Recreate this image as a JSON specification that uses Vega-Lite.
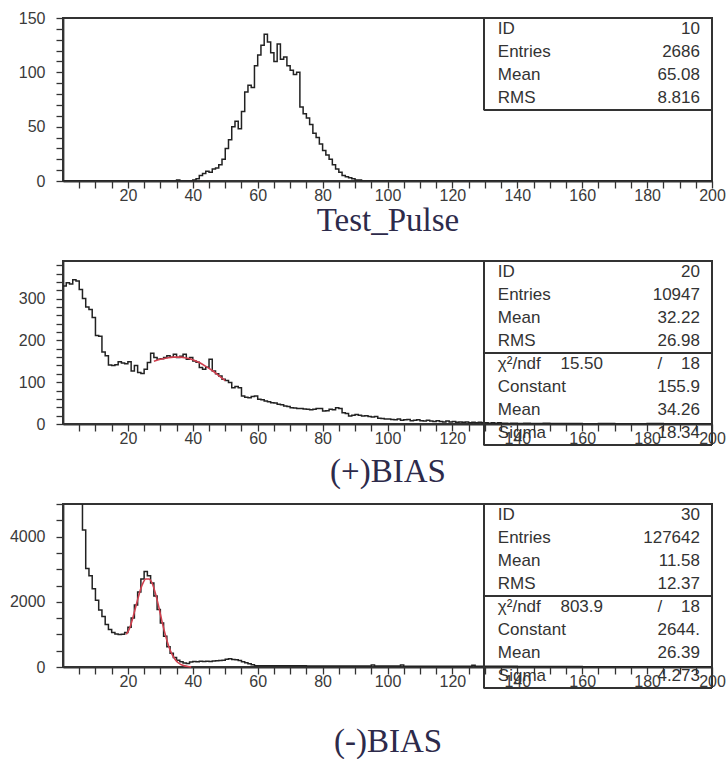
{
"$schema": "https://vega.github.io/schema/vega-lite/v6.json",
"padding": {"left": 8, "top": 9, "right": 0, "bottom": 0},
"background": "white",
"config": {
  "view": {"stroke": "#333", "strokeWidth": 2},
  "axis": {"domainColor": "#333", "domainWidth": 1.8, "ticks": true, "tickSize": 7, "tickColor": "#333", "tickWidth": 1.3, "tickOpacity": 1, "grid": false, "labelFont": "Liberation Sans", "labelFontSize": 16, "labelColor": "#3a3a3a", "labelFlush": false, "labelOverlap": false, "titleFont": "Liberation Serif", "titleFontSize": 33, "titleFontWeight": "normal", "titleColor": "#2d2a4a", "titleBaseline": "alphabetic"},
  "text": {"font": "Liberation Sans", "fontSize": 17, "color": "#333"}
},
"datasets": {
  "tp": [{"x":0,"y":0},{"x":35,"y":1},{"x":36,"y":0},{"x":40,"y":1},{"x":41,"y":2},{"x":42,"y":5},{"x":43,"y":7},{"x":44,"y":9},{"x":45,"y":8},{"x":46,"y":11},{"x":47,"y":12},{"x":48,"y":15},{"x":49,"y":20},{"x":50,"y":30},{"x":51,"y":38},{"x":52,"y":50},{"x":53,"y":55},{"x":54,"y":48},{"x":55,"y":64},{"x":56,"y":82},{"x":57,"y":88},{"x":58,"y":86},{"x":59,"y":106},{"x":60,"y":116},{"x":61,"y":125},{"x":62,"y":135},{"x":63,"y":128},{"x":64,"y":118},{"x":65,"y":110},{"x":66,"y":126},{"x":67,"y":112},{"x":68,"y":114},{"x":69,"y":106},{"x":70,"y":102},{"x":71,"y":98},{"x":72,"y":100},{"x":73,"y":68},{"x":74,"y":62},{"x":75,"y":58},{"x":76,"y":52},{"x":77,"y":44},{"x":78,"y":40},{"x":79,"y":34},{"x":80,"y":28},{"x":81,"y":24},{"x":82,"y":20},{"x":83,"y":15},{"x":84,"y":11},{"x":85,"y":8},{"x":86,"y":5},{"x":87,"y":4},{"x":88,"y":3},{"x":89,"y":2},{"x":90,"y":1},{"x":91,"y":1},{"x":92,"y":0},{"x":200,"y":0}],
  "pb": [{"x":0,"y":330},{"x":1,"y":338},{"x":2,"y":335},{"x":3,"y":345},{"x":4,"y":342},{"x":5,"y":322},{"x":6,"y":300},{"x":7,"y":280},{"x":8,"y":274},{"x":9,"y":255},{"x":10,"y":212},{"x":11,"y":210},{"x":12,"y":172},{"x":13,"y":163},{"x":14,"y":141},{"x":15,"y":140},{"x":16,"y":142},{"x":17,"y":149},{"x":18,"y":146},{"x":19,"y":144},{"x":20,"y":149},{"x":21,"y":127},{"x":22,"y":140},{"x":23,"y":123},{"x":24,"y":121},{"x":25,"y":131},{"x":26,"y":147},{"x":27,"y":169},{"x":28,"y":159},{"x":29,"y":155},{"x":30,"y":156},{"x":31,"y":159},{"x":32,"y":163},{"x":33,"y":160},{"x":34,"y":167},{"x":35,"y":159},{"x":36,"y":162},{"x":37,"y":167},{"x":38,"y":155},{"x":39,"y":159},{"x":40,"y":151},{"x":41,"y":148},{"x":42,"y":135},{"x":43,"y":131},{"x":44,"y":136},{"x":45,"y":155},{"x":46,"y":127},{"x":47,"y":120},{"x":48,"y":115},{"x":49,"y":107},{"x":50,"y":104},{"x":51,"y":99},{"x":52,"y":87},{"x":53,"y":90},{"x":54,"y":87},{"x":55,"y":67},{"x":56,"y":64},{"x":57,"y":63},{"x":58,"y":66},{"x":59,"y":67},{"x":60,"y":59},{"x":61,"y":58},{"x":62,"y":55},{"x":63,"y":53},{"x":64,"y":51},{"x":65,"y":50},{"x":66,"y":47},{"x":67,"y":46},{"x":68,"y":43},{"x":69,"y":42},{"x":70,"y":39},{"x":71,"y":38},{"x":72,"y":37},{"x":73,"y":37},{"x":74,"y":36},{"x":75,"y":35},{"x":76,"y":34},{"x":77,"y":35},{"x":78,"y":37},{"x":79,"y":37},{"x":80,"y":31},{"x":81,"y":32},{"x":82,"y":35},{"x":83,"y":34},{"x":84,"y":39},{"x":85,"y":37},{"x":86,"y":27},{"x":87,"y":25},{"x":88,"y":19},{"x":89,"y":21},{"x":90,"y":23},{"x":91,"y":21},{"x":92,"y":19},{"x":93,"y":20},{"x":94,"y":18},{"x":95,"y":17},{"x":96,"y":18},{"x":97,"y":14},{"x":98,"y":13},{"x":99,"y":12},{"x":100,"y":12},{"x":101,"y":11},{"x":102,"y":10},{"x":103,"y":12},{"x":104,"y":9},{"x":105,"y":10},{"x":106,"y":11},{"x":107,"y":8},{"x":108,"y":9},{"x":109,"y":10},{"x":110,"y":8},{"x":111,"y":7},{"x":112,"y":9},{"x":113,"y":7},{"x":114,"y":6},{"x":115,"y":8},{"x":116,"y":6},{"x":117,"y":5},{"x":118,"y":7},{"x":119,"y":5},{"x":120,"y":6},{"x":121,"y":4},{"x":122,"y":5},{"x":123,"y":4},{"x":124,"y":5},{"x":125,"y":3},{"x":126,"y":4},{"x":127,"y":3},{"x":128,"y":4},{"x":129,"y":3},{"x":130,"y":3},{"x":131,"y":2},{"x":132,"y":3},{"x":133,"y":2},{"x":134,"y":3},{"x":135,"y":2},{"x":137,"y":1},{"x":138,"y":2},{"x":140,"y":1},{"x":142,"y":2},{"x":144,"y":1},{"x":148,"y":2},{"x":150,"y":1},{"x":160,"y":0},{"x":165,"y":1},{"x":170,"y":0},{"x":180,"y":1},{"x":185,"y":0},{"x":200,"y":0}],
  "pfit": [{"x":28,"y":150},{"x":30,"y":155},{"x":32,"y":158},{"x":34,"y":160},{"x":36,"y":160},{"x":38,"y":158},{"x":40,"y":154},{"x":42,"y":147},{"x":44,"y":138},{"x":46,"y":128},{"x":48,"y":116},{"x":50,"y":104}],
  "nb": [{"x":0,"y":8000},{"x":1,"y":14000},{"x":2,"y":16000},{"x":3,"y":13000},{"x":4,"y":9000},{"x":5,"y":7000},{"x":6,"y":4200},{"x":7,"y":3025},{"x":8,"y":2800},{"x":9,"y":2400},{"x":10,"y":2050},{"x":11,"y":1750},{"x":12,"y":1550},{"x":13,"y":1300},{"x":14,"y":1150},{"x":15,"y":1060},{"x":16,"y":1010},{"x":17,"y":1000},{"x":18,"y":1005},{"x":19,"y":1060},{"x":20,"y":1220},{"x":21,"y":1500},{"x":22,"y":1900},{"x":23,"y":2300},{"x":24,"y":2700},{"x":25,"y":2930},{"x":26,"y":2800},{"x":27,"y":2580},{"x":28,"y":2180},{"x":29,"y":1760},{"x":30,"y":1350},{"x":31,"y":940},{"x":32,"y":620},{"x":33,"y":420},{"x":34,"y":290},{"x":35,"y":210},{"x":36,"y":160},{"x":37,"y":120},{"x":38,"y":110},{"x":39,"y":150},{"x":40,"y":170},{"x":41,"y":160},{"x":42,"y":175},{"x":43,"y":165},{"x":44,"y":180},{"x":45,"y":170},{"x":46,"y":185},{"x":47,"y":190},{"x":48,"y":200},{"x":49,"y":210},{"x":50,"y":240},{"x":51,"y":250},{"x":52,"y":230},{"x":53,"y":220},{"x":54,"y":200},{"x":55,"y":160},{"x":56,"y":130},{"x":57,"y":100},{"x":58,"y":70},{"x":59,"y":40},{"x":64,"y":35},{"x":70,"y":38},{"x":75,"y":30},{"x":95,"y":60},{"x":96,"y":30},{"x":104,"y":60},{"x":105,"y":25},{"x":126,"y":50},{"x":127,"y":20},{"x":140,"y":15},{"x":160,"y":10},{"x":200,"y":10}],
  "nfit": [{"x":19.5,"y":1000},{"x":20.5,"y":1180},{"x":21.5,"y":1500},{"x":22.5,"y":1880},{"x":23.5,"y":2250},{"x":24.5,"y":2540},{"x":25.5,"y":2700},{"x":26.5,"y":2700},{"x":27.5,"y":2560},{"x":28.5,"y":2250},{"x":29.5,"y":1850},{"x":30.5,"y":1400},{"x":31.5,"y":1000},{"x":32.5,"y":660},{"x":33.5,"y":410},{"x":34.5,"y":240},{"x":35.5,"y":130},{"x":36.5,"y":70},{"x":37.5,"y":35},{"x":38.5,"y":15},{"x":39.5,"y":5}],
  "s1": [{"row":0,"label":"ID","value":"10"},{"row":1,"label":"Entries","value":"2686"},{"row":2,"label":"Mean","value":"65.08"},{"row":3,"label":"RMS","value":"8.816"}],
  "s2": [{"row":0,"label":"ID","value":"20"},{"row":1,"label":"Entries","value":"10947"},{"row":2,"label":"Mean","value":"32.22"},{"row":3,"label":"RMS","value":"26.98"},{"row":4,"label":"χ²/ndf","mid":"15.50","value":"/\u00a0\u00a0\u00a0\u00a018"},{"row":5,"label":"Constant","value":"155.9"},{"row":6,"label":"Mean","value":"34.26"},{"row":7,"label":"Sigma","value":"18.34"}],
  "s3": [{"row":0,"label":"ID","value":"30"},{"row":1,"label":"Entries","value":"127642"},{"row":2,"label":"Mean","value":"11.58"},{"row":3,"label":"RMS","value":"12.37"},{"row":4,"label":"χ²/ndf","mid":"803.9","value":"/\u00a0\u00a0\u00a0\u00a018"},{"row":5,"label":"Constant","value":"2644."},{"row":6,"label":"Mean","value":"26.39"},{"row":7,"label":"Sigma","value":"4.273"}]
},
"vconcat": [
 {
  "width": 649, "height": 163,
  "resolve": {"scale": {"y": "independent"}, "axis": {"x": "independent"}},
  "layer": [
   {"data": {"name": "tp"},
    "mark": {"type": "line", "interpolate": "step-after", "color": "#222", "strokeWidth": 1.5, "clip": true},
    "encoding": {
      "x": {"field": "x", "type": "quantitative", "scale": {"domain": [0, 200], "nice": false, "zero": false},
            "axis": {"title": "Test_Pulse", "titleY": 49, "values": [5,10,15,20,25,30,35,40,45,50,55,60,65,70,75,80,85,90,95,100,105,110,115,120,125,130,135,140,145,150,155,160,165,170,175,180,185,190,195,200],
                     "labelExpr": "datum.value % 20 === 0 ? datum.label : ''", "labelPadding": -1,
                     "encode": {"ticks": {"update": {"y2": {"signal": "datum.value % 20 === 0 ? -10 : -6"}}}}}},
      "y": {"field": "y", "type": "quantitative", "scale": {"domain": [0, 150], "nice": false},
            "axis": {"title": null, "values": [0,10,20,30,40,50,60,70,80,90,100,110,120,130,140,150],
                     "labelExpr": "datum.value % 50 === 0 ? datum.label : ''", "labelPadding": 11,
                     "encode": {"ticks": {"update": {"x2": {"signal": "datum.value % 50 === 0 ? 9 : 5"}}}}}}
    }},
   {"data": {"name": "s1"},
    "encoding": {"y": {"field": "row", "type": "quantitative", "scale": {"domain": [-0.5, 6.587], "reverse": true, "nice": false, "zero": false}, "axis": null}},
    "layer": [
     {"mark": {"type": "rule", "stroke": "#333", "strokeWidth": 1.6},
      "encoding": {"x": {"datum": 129.7, "type": "quantitative", "axis": null}, "y": {"datum": -0.5, "type": "quantitative"}, "y2": {"datum": 3.5}}},
     {"mark": {"type": "rule", "stroke": "#333", "strokeWidth": 1.6},
      "encoding": {"x": {"datum": 129.7, "type": "quantitative", "axis": null}, "x2": {"datum": 200}, "y": {"datum": 3.5, "type": "quantitative"}}},
     {"mark": {"type": "text", "align": "left", "baseline": "middle"},
      "encoding": {"x": {"datum": 134, "type": "quantitative", "axis": null}, "text": {"field": "label"}}},
     {"mark": {"type": "text", "align": "right", "baseline": "middle"},
      "encoding": {"x": {"datum": 196.3, "type": "quantitative", "axis": null}, "text": {"field": "value"}}}
    ]}
  ]
 },
 {
  "width": 649, "height": 163,
  "resolve": {"scale": {"y": "independent"}, "axis": {"x": "independent"}},
  "layer": [
   {"data": {"name": "pb"},
    "mark": {"type": "line", "interpolate": "step-after", "color": "#222", "strokeWidth": 1.5, "clip": true},
    "encoding": {
      "x": {"field": "x", "type": "quantitative", "scale": {"domain": [0, 200], "nice": false, "zero": false},
            "axis": {"title": "(+)BIAS", "titleY": 57, "values": [5,10,15,20,25,30,35,40,45,50,55,60,65,70,75,80,85,90,95,100,105,110,115,120,125,130,135,140,145,150,155,160,165,170,175,180,185,190,195,200],
                     "labelExpr": "datum.value % 20 === 0 ? datum.label : ''", "labelPadding": -1,
                     "encode": {"ticks": {"update": {"y2": {"signal": "datum.value % 20 === 0 ? -10 : -6"}}}}}},
      "y": {"field": "y", "type": "quantitative", "scale": {"domain": [0, 390], "nice": false},
            "axis": {"title": null, "values": [0,20,40,60,80,100,120,140,160,180,200,220,240,260,280,300,320,340,360,380],
                     "labelExpr": "datum.value % 100 === 0 ? datum.label : ''", "labelPadding": 11,
                     "encode": {"ticks": {"update": {"x2": {"signal": "datum.value % 100 === 0 ? 9 : 5"}}}}}}
    }},
   {"data": {"name": "pfit"},
    "mark": {"type": "line", "interpolate": "monotone", "color": "#d0404f", "strokeWidth": 1.6},
    "encoding": {"x": {"field": "x", "type": "quantitative", "axis": null},
                 "y": {"field": "y", "type": "quantitative", "scale": {"domain": [0, 390], "nice": false}, "axis": null}}},
   {"data": {"name": "s2"},
    "encoding": {"y": {"field": "row", "type": "quantitative", "scale": {"domain": [-0.5, 6.587], "reverse": true, "nice": false, "zero": false}, "axis": null}},
    "layer": [
     {"mark": {"type": "rule", "stroke": "#333", "strokeWidth": 1.6},
      "encoding": {"x": {"datum": 129.7, "type": "quantitative", "axis": null}, "y": {"datum": -0.5, "type": "quantitative"}, "y2": {"datum": 7.5}}},
     {"mark": {"type": "rule", "stroke": "#333", "strokeWidth": 1.6},
      "encoding": {"x": {"datum": 200, "type": "quantitative", "axis": null}, "y": {"datum": -0.5, "type": "quantitative"}, "y2": {"datum": 7.5}}},
     {"mark": {"type": "rule", "stroke": "#333", "strokeWidth": 1.6},
      "encoding": {"x": {"datum": 129.7, "type": "quantitative", "axis": null}, "x2": {"datum": 200}, "y": {"datum": 3.5, "type": "quantitative"}}},
     {"mark": {"type": "rule", "stroke": "#333", "strokeWidth": 1.6},
      "encoding": {"x": {"datum": 129.7, "type": "quantitative", "axis": null}, "x2": {"datum": 200}, "y": {"datum": 7.5, "type": "quantitative"}}},
     {"mark": {"type": "text", "align": "left", "baseline": "middle"},
      "encoding": {"x": {"datum": 134, "type": "quantitative", "axis": null}, "text": {"field": "label"}}},
     {"transform": [{"filter": "isValid(datum.mid)"}],
      "mark": {"type": "text", "align": "right", "baseline": "middle"},
      "encoding": {"x": {"datum": 166.4, "type": "quantitative", "axis": null}, "text": {"field": "mid"}}},
     {"mark": {"type": "text", "align": "right", "baseline": "middle"},
      "encoding": {"x": {"datum": 196.3, "type": "quantitative", "axis": null}, "text": {"field": "value"}}}
    ]}
  ]
 },
 {
  "width": 649, "height": 163,
  "resolve": {"scale": {"y": "independent"}, "axis": {"x": "independent"}},
  "layer": [
   {"data": {"name": "nb"},
    "mark": {"type": "line", "interpolate": "step-after", "color": "#222", "strokeWidth": 1.5, "clip": true},
    "encoding": {
      "x": {"field": "x", "type": "quantitative", "scale": {"domain": [0, 200], "nice": false, "zero": false},
            "axis": {"title": "(-)BIAS", "titleY": 84, "values": [5,10,15,20,25,30,35,40,45,50,55,60,65,70,75,80,85,90,95,100,105,110,115,120,125,130,135,140,145,150,155,160,165,170,175,180,185,190,195,200],
                     "labelExpr": "datum.value % 20 === 0 ? datum.label : ''", "labelPadding": -1,
                     "encode": {"ticks": {"update": {"y2": {"signal": "datum.value % 20 === 0 ? -10 : -6"}}}}}},
      "y": {"field": "y", "type": "quantitative", "scale": {"domain": [0, 5000], "nice": false},
            "axis": {"title": null, "values": [0,500,1000,1500,2000,2500,3000,3500,4000,4500,5000],
                     "labelExpr": "datum.value % 2000 === 0 ? datum.label : ''", "format": "d", "labelPadding": 11,
                     "encode": {"ticks": {"update": {"x2": {"signal": "datum.value % 2000 === 0 ? 9 : 5"}}}}}}
    }},
   {"data": {"name": "nfit"},
    "mark": {"type": "line", "interpolate": "monotone", "color": "#d0404f", "strokeWidth": 1.6},
    "encoding": {"x": {"field": "x", "type": "quantitative", "axis": null},
                 "y": {"field": "y", "type": "quantitative", "scale": {"domain": [0, 5000], "nice": false}, "axis": null}}},
   {"data": {"name": "s3"},
    "encoding": {"y": {"field": "row", "type": "quantitative", "scale": {"domain": [-0.5, 6.587], "reverse": true, "nice": false, "zero": false}, "axis": null}},
    "layer": [
     {"mark": {"type": "rule", "stroke": "#333", "strokeWidth": 1.6},
      "encoding": {"x": {"datum": 129.7, "type": "quantitative", "axis": null}, "y": {"datum": -0.5, "type": "quantitative"}, "y2": {"datum": 7.5}}},
     {"mark": {"type": "rule", "stroke": "#333", "strokeWidth": 1.6},
      "encoding": {"x": {"datum": 200, "type": "quantitative", "axis": null}, "y": {"datum": -0.5, "type": "quantitative"}, "y2": {"datum": 7.5}}},
     {"mark": {"type": "rule", "stroke": "#333", "strokeWidth": 1.6},
      "encoding": {"x": {"datum": 129.7, "type": "quantitative", "axis": null}, "x2": {"datum": 200}, "y": {"datum": 3.5, "type": "quantitative"}}},
     {"mark": {"type": "rule", "stroke": "#333", "strokeWidth": 1.6},
      "encoding": {"x": {"datum": 129.7, "type": "quantitative", "axis": null}, "x2": {"datum": 200}, "y": {"datum": 7.5, "type": "quantitative"}}},
     {"mark": {"type": "text", "align": "left", "baseline": "middle"},
      "encoding": {"x": {"datum": 134, "type": "quantitative", "axis": null}, "text": {"field": "label"}}},
     {"transform": [{"filter": "isValid(datum.mid)"}],
      "mark": {"type": "text", "align": "right", "baseline": "middle"},
      "encoding": {"x": {"datum": 166.4, "type": "quantitative", "axis": null}, "text": {"field": "mid"}}},
     {"mark": {"type": "text", "align": "right", "baseline": "middle"},
      "encoding": {"x": {"datum": 196.3, "type": "quantitative", "axis": null}, "text": {"field": "value"}}}
    ]}
  ]
 }
],
"spacing": 80,
"bounds": "flush"
}
